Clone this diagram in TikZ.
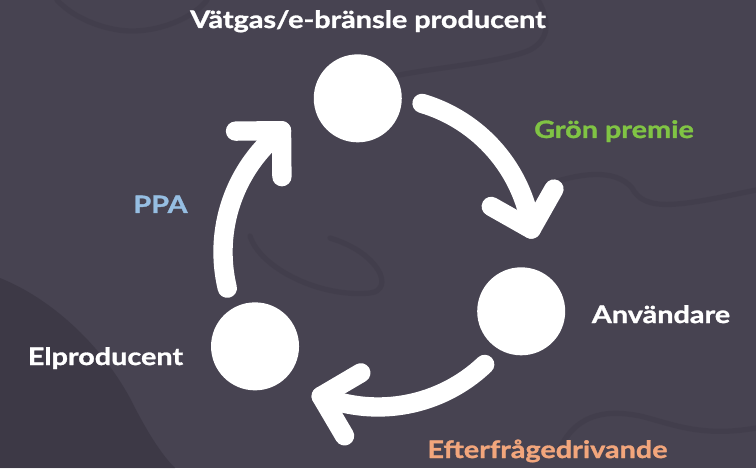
\documentclass[tikz,border=0pt]{standalone}
\usepackage{fontspec}
\setmainfont{Lato}[FakeStretch=1.2, BoldFeatures={FakeBold=1.3}]
\usetikzlibrary{calc}
\definecolor{fond}{RGB}{71,67,81}
\definecolor{fondmork}{RGB}{52,48,60}
\definecolor{gron}{RGB}{128,196,68}
\definecolor{bla}{RGB}{150,190,226}
\definecolor{efterfr}{RGB}{242,166,124}

\begin{document}
\begin{tikzpicture}[x=0.75pt, y=0.75pt,
    flode/.style={draw=white, line width=14.5pt, line cap=round, line join=round},
    punkt/.style={circle, fill=white, minimum size=66pt, inner sep=0pt},
    kant/.style={draw=fondmork, line width=4pt, opacity=0.22, line cap=round},
    etikett/.style={font=\bfseries\fontsize{18pt}{21pt}\selectfont, text=white, anchor=base, inner sep=0pt}]

    % Kretsens mitt och radie (px)
    \def\cx{378}
    \def\cy{216}
    \def\R{155}

    % =========================================================================
    % BAKGRUND
    % =========================================================================
    \fill[fond] (0,0) rectangle (756,468);
    \useasboundingbox (0,0) rectangle (756,468);
    \fill[fondmork, opacity=0.5] (0,0) -- (0,190)
        .. controls (50,170) and (100,125) .. (130,70)
        .. controls (145,40) and (160,15) .. (175,0) -- cycle;
    % svaga pusselkanter
    \draw[kant] (57,468) .. controls (75,448) and (110,436) .. (135,437)
        .. controls (165,438) and (195,452) .. (207,468);
    \draw[kant] (538,468) .. controls (548,450) and (552,430) .. (530,418)
        .. controls (500,405) and (430,400) .. (395,392);
    \draw[kant] (545,283) .. controls (580,295) and (615,300) .. (632,280)
        .. controls (645,255) and (680,262) .. (756,278);
    \draw[kant] (250,232) .. controls (260,200) and (320,170) .. (370,175)
        .. controls (395,178) and (380,215) .. (330,230);
    \draw[kant] (560,20) .. controls (575,50) and (600,60) .. (640,52)
        .. controls (670,45) and (700,30) .. (756,40);

    \coordinate (O) at (\cx,\cy);

    % =========================================================================
    % AKTÖRER
    % =========================================================================
    \node[punkt] (vatgas) at ($(O)+(97.5:\R)$) {};
    \node[punkt] (anv)    at ($(O)+(-22.5:\R)$) {};
    \node[punkt] (el)     at ($(O)+(217.5:\R)$) {};

    % =========================================================================
    % PILAR (medurs)
    % =========================================================================
    \foreach \namn/\start/\slut in {ppa/193.5/128.5, gron/73.5/8.5, efter/-46.5/-111.5}{
        \draw[flode] ($(O)+(\start:\R)$) coordinate (\namn-s)
            arc[start angle=\start, end angle=\slut, radius=\R] coordinate (\namn-t);
        \draw[flode] ($(\namn-t)+({\slut+52}:46)$) -- (\namn-t) -- ($(\namn-t)+({\slut+142}:46)$);
    }

    % =========================================================================
    % ETIKETTER
    % =========================================================================
    \node[etikett] (t-vatgas) at (368,440) {Vätgas/e-bränsle producent};
    \node[etikett, text=gron] (t-gron) at (614,330) {Grön premie};
    \node[etikett, text=bla] (t-ppa) at (160.5,255) {PPA};
    \node[etikett] (t-anv) at (661,145) {Användare};
    \node[etikett] (t-el) at (105.5,103) {Elproducent};
    \node[etikett, text=efterfr] (t-efter) at (547.5,10) {Efterfrågedrivande};
\end{tikzpicture}
\end{document}
